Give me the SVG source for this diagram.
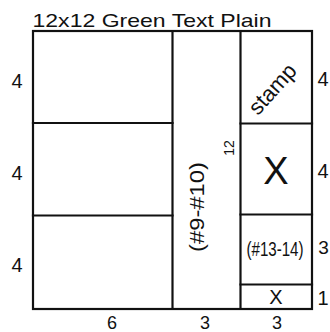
<svg xmlns="http://www.w3.org/2000/svg" width="330" height="332" viewBox="0 0 330 332">
<style>
.ln{stroke:#111;stroke-width:2.2;fill:none;stroke-linecap:square}
.t{font-family:"Liberation Sans",Arial,sans-serif;fill:#111;text-anchor:middle}
</style>
<rect width="330" height="332" fill="#fff"/>
<text class="t" x="152" y="27" font-size="19" textLength="239" lengthAdjust="spacingAndGlyphs">12x12 Green Text Plain</text>
<g id="connectors">
<rect class="ln" x="33" y="31" width="279" height="278"/>
<line class="ln" x1="172.5" y1="31" x2="172.5" y2="309"/>
<line class="ln" x1="240.5" y1="31" x2="240.5" y2="309"/>
<line class="ln" x1="33" y1="123" x2="172.5" y2="123"/>
<line class="ln" x1="33" y1="215.5" x2="172.5" y2="215.5"/>
<line class="ln" x1="240.5" y1="123.5" x2="312" y2="123.5"/>
<line class="ln" x1="240.5" y1="214.5" x2="312" y2="214.5"/>
<line class="ln" x1="240.5" y1="284.5" x2="312" y2="284.5"/>
</g>
<g id="labels-left">
<text class="t" x="17" y="88" font-size="20">4</text>
<text class="t" x="17" y="180" font-size="20">4</text>
<text class="t" x="17" y="272" font-size="20">4</text>
</g>
<g id="labels-right">
<text class="t" x="323" y="86" font-size="20">4</text>
<text class="t" x="323" y="178" font-size="20">4</text>
<text class="t" x="323.5" y="254" font-size="19">3</text>
<text class="t" x="323" y="305" font-size="20">1</text>
</g>
<g id="labels-bottom">
<text class="t" x="112" y="329" font-size="18">6</text>
<text class="t" x="205" y="329" font-size="18">3</text>
<text class="t" x="277" y="329" font-size="18">3</text>
</g>
<g id="stamp">
<text class="t" font-size="22" transform="translate(278,94) rotate(-48)">stamp</text>
</g>
<g id="x-big">
<text class="t" x="276" y="184" font-size="38">X</text>
</g>
<g id="n13-14">
<text class="t" font-size="21" transform="translate(275,256) scale(0.72,1)">(#13-14)</text>
</g>
<g id="x-small">
<text class="t" x="276" y="304" font-size="20">X</text>
</g>
<g id="n9-10">
<text class="t" font-size="20" transform="translate(204,207) rotate(-90)" textLength="90" lengthAdjust="spacingAndGlyphs">(#9-#10)</text>
</g>
<g id="twelve">
<text class="t" font-size="14" transform="translate(234,148) rotate(-90)">12</text>
</g>
</svg>
